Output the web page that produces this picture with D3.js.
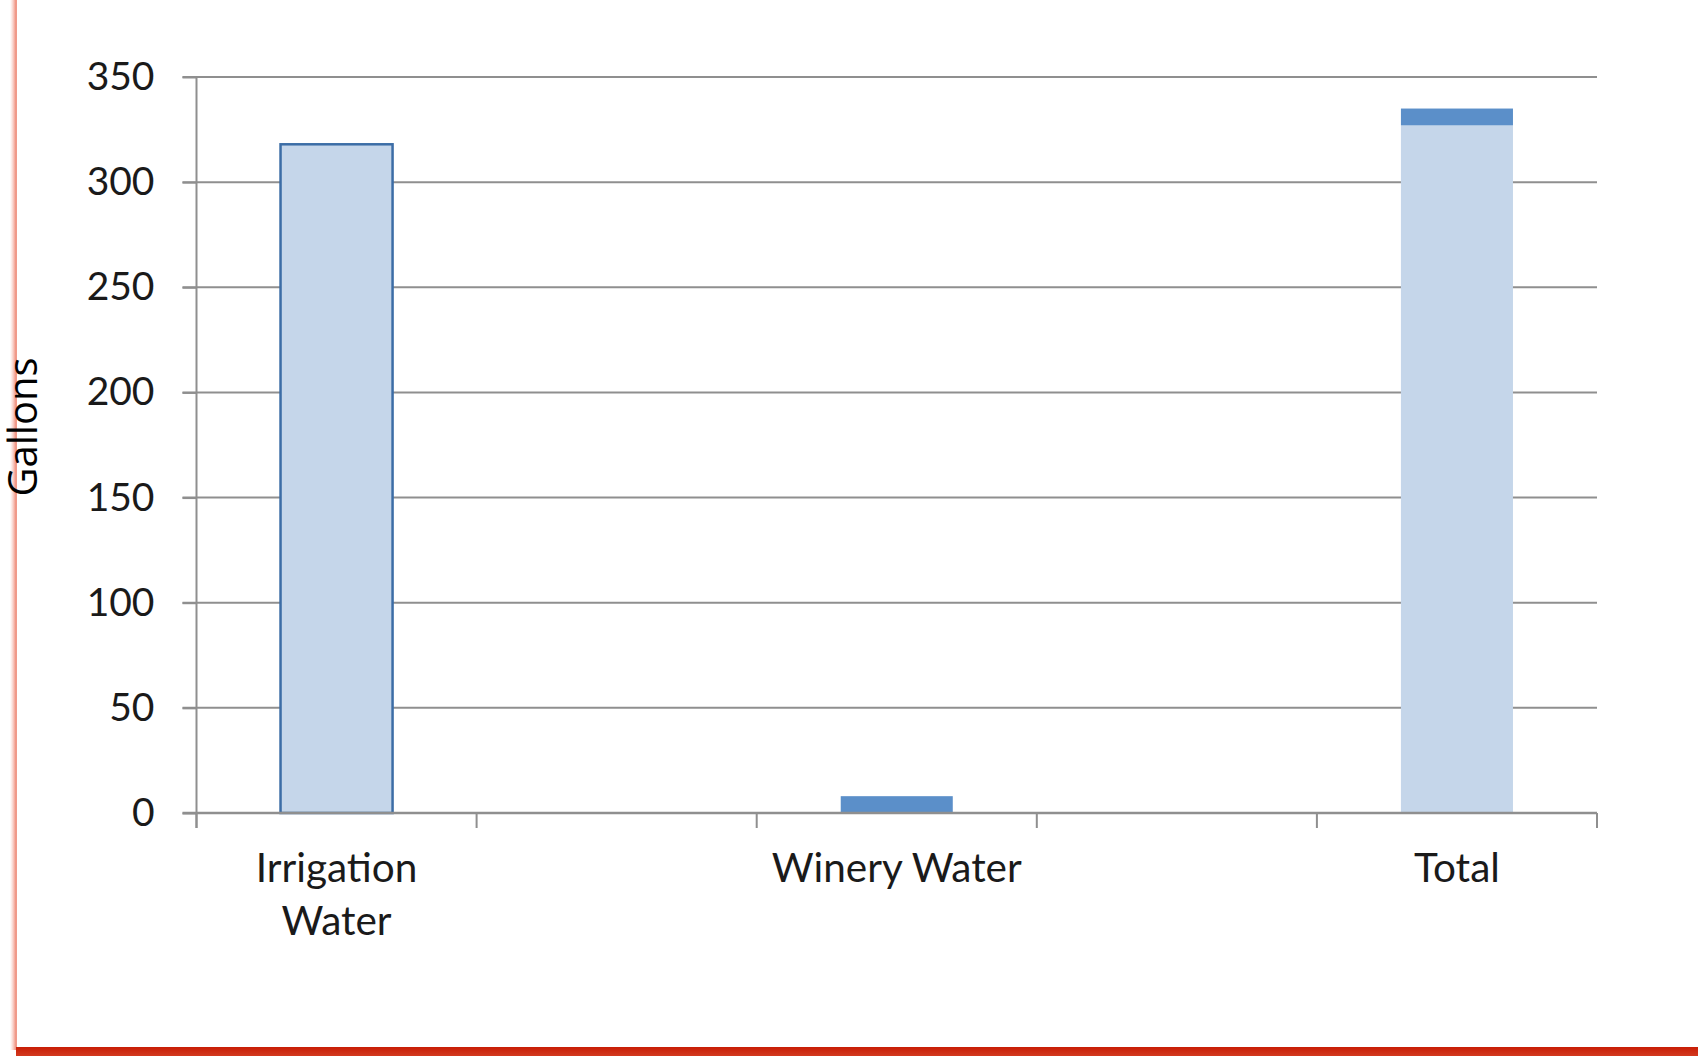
<!DOCTYPE html>
<html>
<head>
<meta charset="utf-8">
<script src="https://cdn.jsdelivr.net/npm/d3@7/dist/d3.min.js"></script>
<style>
  html, body { margin: 0; padding: 0; background: #ffffff; }
  svg { display: block; }
</style>
</head>
<body>
<svg id="chart" width="1701" height="1056"></svg>
<script>
// ---- data ----
const categories = ["Irrigation Water", "", "Winery Water", "", "Total"];
const irrigationValues = [318, 0, 0, 0, 327];
const wineryValues = [0, 0, 8, 0, 8];
const yTicks = [0, 50, 100, 150, 200, 250, 300, 350];
const yLabel = "Gallons";

// ---- layout ----
const W = 1701, H = 1056;
const plot = { left: 196.5, right: 1597, top: 77, bottom: 813 };

const svg = d3.select("#chart");

// frame decoration
const defs = svg.append("defs");
const gl = defs.append("linearGradient").attr("id", "lshadow").attr("x1", 0).attr("x2", 1);
gl.append("stop").attr("offset", 0).attr("stop-color", "#f7c8bf").attr("stop-opacity", 0);
gl.append("stop").attr("offset", 1).attr("stop-color", "#f3a394").attr("stop-opacity", 1);
const gb = defs.append("linearGradient").attr("id", "bshadow").attr("x1", 0).attr("x2", 0).attr("y1", 0).attr("y2", 1);
gb.append("stop").attr("offset", 0).attr("stop-color", "#c81d05");
gb.append("stop").attr("offset", 1).attr("stop-color", "#d2391f");

svg.append("rect").attr("x", 0).attr("y", 0).attr("width", W).attr("height", H).attr("fill", "#ffffff");
svg.append("rect").attr("x", 10).attr("y", 0).attr("width", 5).attr("height", 1050).attr("fill", "url(#lshadow)");
svg.append("rect").attr("x", 15).attr("y", 0).attr("width", 2).attr("height", 1050).attr("fill", "#f09a8a");
svg.append("rect").attr("x", 16).attr("y", 1047).attr("width", 1682).attr("height", 9).attr("fill", "url(#bshadow)");

// scales
const x = d3.scaleBand()
  .domain(d3.range(categories.length))
  .range([plot.left, plot.right])
  .paddingInner(0).paddingOuter(0);

const y = d3.scaleLinear().domain([0, 350]).range([plot.bottom, plot.top]);

// gridlines
svg.append("g").selectAll("line").data(yTicks.filter(t => t > 0)).join("line")
  .attr("x1", plot.left - 14).attr("x2", plot.right)
  .attr("y1", d => y(d)).attr("y2", d => y(d))
  .attr("stroke", "#8f8f8f").attr("stroke-width", 2);

// y axis via d3.axisLeft
const yAxis = svg.append("g")
  .attr("transform", `translate(${plot.left},0)`)
  .call(d3.axisLeft(y).tickValues(yTicks).tickSize(14).tickSizeOuter(0).tickPadding(28));
yAxis.select(".domain").remove();
yAxis.selectAll(".tick line").attr("stroke", "#8f8f8f").attr("stroke-width", 2);
yAxis.selectAll(".tick text")
  .attr("font-family", "Lato, 'Open Sans', sans-serif")
  .attr("font-size", 39)
  .attr("fill", "#1a1a1a");
svg.append("line")
  .attr("x1", plot.left).attr("x2", plot.left)
  .attr("y1", plot.top).attr("y2", plot.bottom + 15)
  .attr("stroke", "#8f8f8f").attr("stroke-width", 2);

// bars
const barW = x.bandwidth() * 0.4;
const bx = i => x(i) + (x.bandwidth() - barW) / 2;
const idx = d3.range(categories.length);

// irrigation series (light), first bar outlined
svg.append("g").selectAll("rect").data(idx.filter(i => irrigationValues[i] > 0)).join("rect")
  .attr("x", i => bx(i))
  .attr("width", barW)
  .attr("y", i => y(irrigationValues[i]))
  .attr("height", i => y(0) - y(irrigationValues[i]))
  .attr("fill", "#c5d6ea")
  .attr("stroke", i => i === 0 ? "#3c6da6" : "none")
  .attr("stroke-width", 2.5);

// winery series (dark), stacked on irrigation
svg.append("g").selectAll("rect").data(idx.filter(i => wineryValues[i] > 0)).join("rect")
  .attr("x", i => bx(i))
  .attr("width", barW)
  .attr("y", i => y(irrigationValues[i] + wineryValues[i]))
  .attr("height", i => y(irrigationValues[i]) - y(irrigationValues[i] + wineryValues[i]))
  .attr("fill", "#5b8fc9");

// x axis baseline
svg.append("line")
  .attr("x1", plot.left - 14).attr("x2", plot.right)
  .attr("y1", y(0)).attr("y2", y(0))
  .attr("stroke", "#8f8f8f").attr("stroke-width", 2.5);

// x category boundary ticks
const boundaries = idx.map(i => x(i)).concat([x.range()[1]]);
svg.append("g").selectAll("line").data(boundaries).join("line")
  .attr("x1", d => d).attr("x2", d => d)
  .attr("y1", y(0)).attr("y2", y(0) + 15)
  .attr("stroke", "#8f8f8f").attr("stroke-width", 2);

// category labels (wrapped)
const wrap = {"Irrigation Water": ["Irrigation", "Water"]};
const lab = svg.append("g")
  .attr("font-family", "Lato, 'Open Sans', sans-serif")
  .attr("font-size", 40.5)
  .attr("fill", "#1a1a1a")
  .attr("text-anchor", "middle");
idx.forEach(i => {
  const c = categories[i];
  if (!c) return;
  const lines = wrap[c] || [c];
  const t = lab.append("text").attr("x", x(i) + x.bandwidth() / 2).attr("y", 882);
  lines.forEach((l, k) => {
    t.append("tspan").attr("x", x(i) + x.bandwidth() / 2).attr("dy", k === 0 ? 0 : 53).text(l);
  });
});

// y axis title
svg.append("text")
  .attr("transform", "translate(37,427) rotate(-90)")
  .attr("text-anchor", "middle")
  .attr("font-family", "'Open Sans', sans-serif")
  .attr("font-size", 40)
  .attr("fill", "#000000")
  .text(yLabel);
</script>
</body>
</html>
